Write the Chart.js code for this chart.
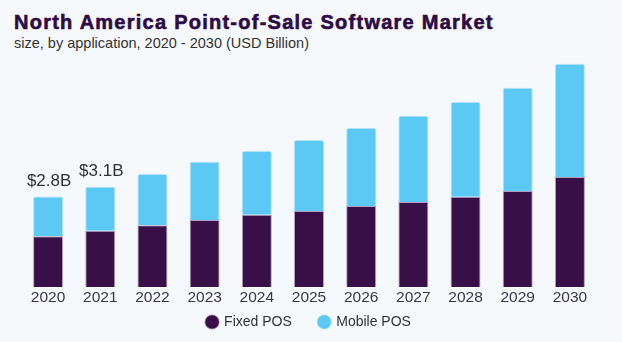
<!DOCTYPE html>
<html>
<head>
<meta charset="utf-8">
<script src="https://cdn.jsdelivr.net/npm/chart.js@4.4.1/dist/chart.umd.min.js"></script>
<style>
  html, body { margin: 0; padding: 0; background: #f5f9fc; }
  #wrap { position: relative; width: 622px; height: 342px; overflow: hidden; }
  #title { position: absolute; left: 14px; top: 12px; line-height: 20px; font-family: "Liberation Sans", Arial, sans-serif; font-weight: bold; font-size: 20px; color: #2e0b45; white-space: nowrap; letter-spacing: 1.25px; -webkit-text-stroke: 0.6px #2e0b45; }
  #subtitle { position: absolute; left: 14px; top: 35px; line-height: 16px; font-family: "Liberation Sans", Arial, sans-serif; font-size: 14.5px; color: #333; white-space: nowrap; }
  canvas { position: absolute; left: 0; top: 0; }
</style>
</head>
<body>
<div id="wrap">
  <div id="title">North America Point-of-Sale Software Market</div>
  <div id="subtitle">size, by application, 2020 - 2030 (USD Billion)</div>
  <canvas id="posChart" width="622" height="342"></canvas>
</div>
<script>
var years = ['2020', '2021', '2022', '2023', '2024', '2025', '2026', '2027', '2028', '2029', '2030'];
var fixedPos = [1.57, 1.74, 1.91, 2.07, 2.23, 2.35, 2.50, 2.63, 2.79, 2.97, 3.40];
var mobilePos = [1.23, 1.36, 1.58, 1.80, 1.97, 2.19, 2.41, 2.66, 2.93, 3.19, 3.50];
var totalLabels = ['$2.8B', '$3.1B', '', '', '', '', '', '', '', '', ''];

// draws the total labels above the first bars
var totalsPlugin = {
  id: 'totals',
  afterDatasetsDraw: function(chart) {
    var ctx = chart.ctx;
    var meta = chart.getDatasetMeta(1);
    ctx.save();
    ctx.font = '17px "Liberation Sans", Arial, sans-serif';
    ctx.fillStyle = '#333';
    ctx.textAlign = 'center';
    ctx.textBaseline = 'middle';
    for (var i = 0; i < totalLabels.length; i++) {
      if (!totalLabels[i]) continue;
      var bar = meta.data[i];
      ctx.fillText(totalLabels[i], bar.x + 1, bar.y - 15);
    }
    ctx.restore();
  }
};

var ctx = document.getElementById('posChart');

var barGraph = new Chart(ctx, {
  type: 'bar',
  data: {
    labels: years,
    datasets: [
      {
        label: 'Fixed POS',
        data: fixedPos,
        backgroundColor: '#380f47',
        borderColor: 'rgba(150,120,165,0.7)',
        borderWidth: 1,
        borderSkipped: 'bottom'
      },
      {
        label: 'Mobile POS',
        data: mobilePos,
        backgroundColor: '#5cc9f5',
        borderColor: 'rgba(160,220,248,0.8)',
        borderWidth: 1,
        borderRadius: { topLeft: 2, topRight: 2 },
        borderSkipped: 'bottom'
      }
    ]
  },
  options: {
    responsive: false,
    animation: false,
    layout: { padding: { left: 22, right: 26, top: 54, bottom: 3 } },
    datasets: { bar: { categoryPercentage: 1, barPercentage: 0.575 } },
    scales: {
      x: {
        stacked: true,
        grid: { display: false, drawTicks: false },
        border: { display: false },
        ticks: { color: '#3a3848', font: { family: '"Liberation Sans", Arial, sans-serif', size: 15.5 }, padding: 1 },
        afterFit: function(scale) { scale.height = 20; }
      },
      y: {
        stacked: true,
        display: false,
        min: 0,
        max: 7.2
      }
    },
    plugins: {
      legend: {
        position: 'bottom',
        labels: {
          usePointStyle: true,
          pointStyle: 'circle',
          boxWidth: 10,
          boxHeight: 10,
          padding: 8,
          color: '#333',
          font: { family: '"Liberation Sans", Arial, sans-serif', size: 14 },
          generateLabels: function(chart) {
            var items = Chart.defaults.plugins.legend.labels.generateLabels(chart);
            items[0].text = items[0].text + '     ';
            return items;
          }
        }
      },
      tooltip: { enabled: false }
    }
  },
  plugins: [totalsPlugin]
});
</script>
</body>
</html>
